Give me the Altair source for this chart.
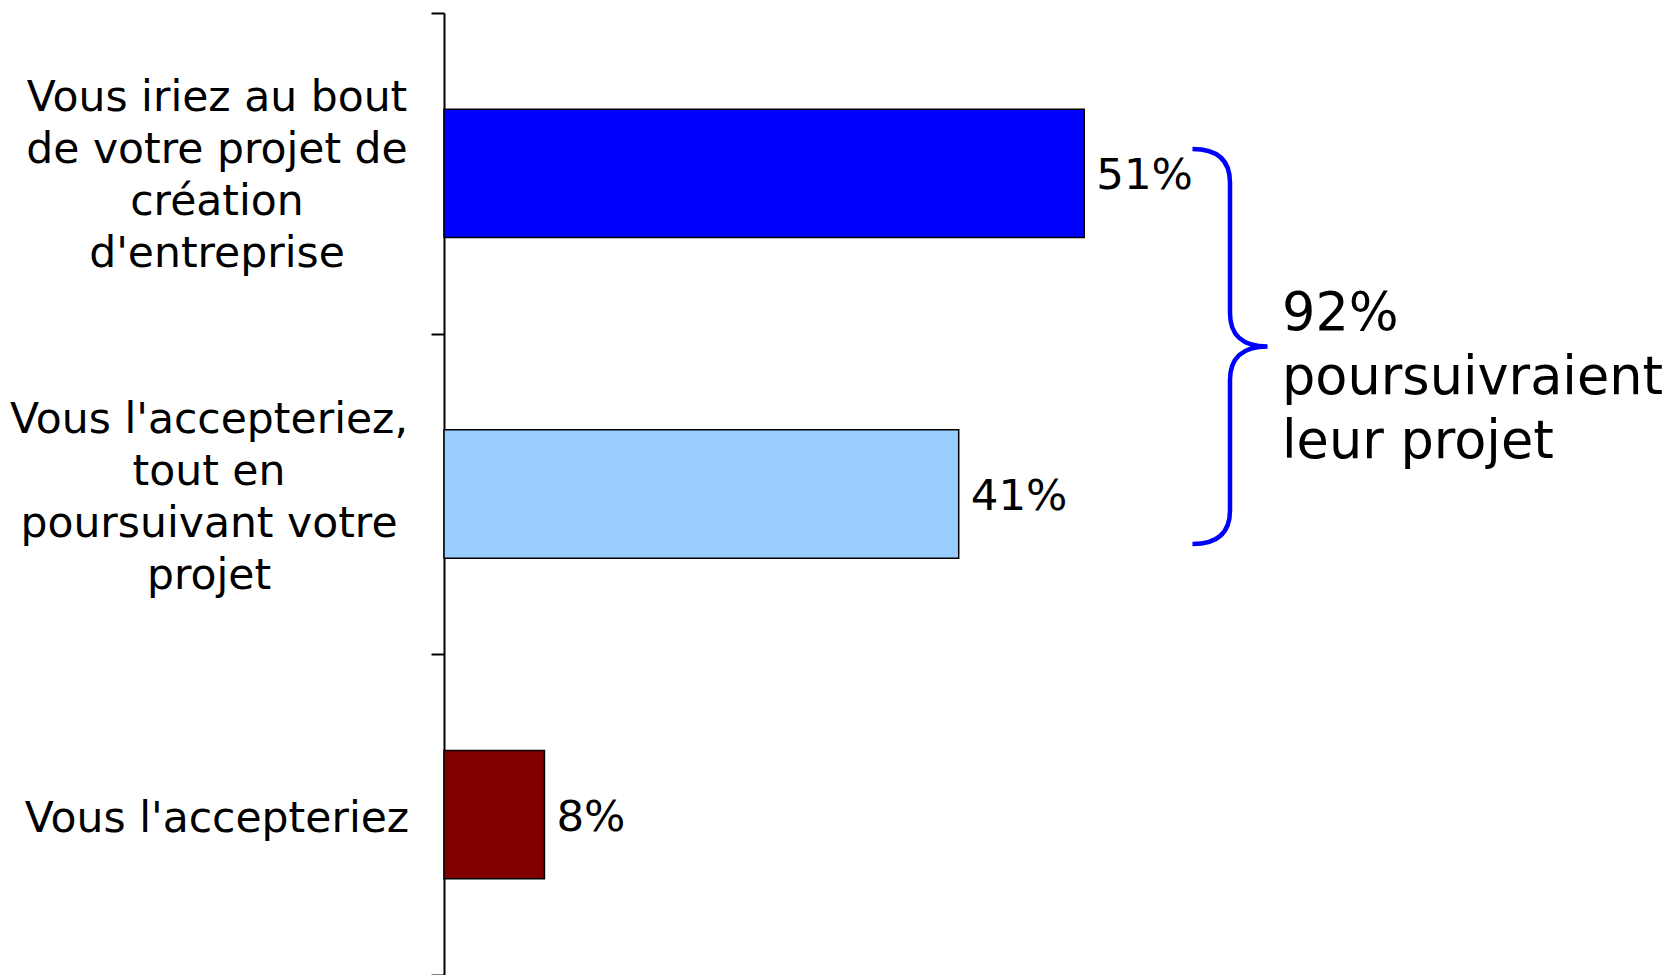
import altair as alt
import pandas as pd

categories = [
    "Vous iriez au bout\nde votre projet de\ncréation\nd'entreprise",
    "Vous l'accepteriez,\ntout en\npoursuivant votre\nprojet",
    "Vous l'accepteriez",
]
values = [51, 41, 8]
colors = ["#0000FF", "#99CCFF", "#800000"]
value_labels = ["51%", "41%", "8%"]
annotation_lines = ["92%", "poursuivraient", "leur projet"]

df = pd.DataFrame({"cat": categories, "value": values, "color": colors, "label": value_labels})

FONT = "DejaVu Sans"
y_scale = alt.Scale(domain=categories, paddingInner=0, paddingOuter=0)
x_scale = alt.Scale(domain=[0, 97.5], nice=False, zero=True)
y_enc = alt.Y("cat:N", scale=y_scale, sort=categories,
              axis=alt.Axis(title=None, labels=False, tickBand="extent", grid=False,
                            domainColor="black", tickColor="black", tickSize=13,
                            domainWidth=2, tickWidth=2))
y_plain = alt.Y("cat:N", scale=y_scale, sort=categories)

base = alt.Chart(df)

bars = base.mark_bar(stroke="black", strokeWidth=1.5, height=alt.RelativeBandSize(0.4)).encode(
    y=y_enc,
    x=alt.X("value:Q", scale=x_scale, axis=None),
    color=alt.Color("color:N", scale=None),
)

vals = base.mark_text(align="left", baseline="middle", dx=12, dy=3, fontSize=43.5, font=FONT, color="black").encode(
    y=y_plain, x=alt.X("value:Q", scale=x_scale), text="label:N"
)

LBL = dict(align="center", baseline="middle", lineBreak="\n", fontSize=42.5, lineHeight=52, font=FONT, color="black")

cat_first = base.transform_filter(alt.datum.cat == categories[0]).mark_text(dy=-75, **LBL).encode(
    y=y_plain, x=alt.value(-227), text="cat:N")
cat_second = base.transform_filter(alt.datum.cat == categories[1]).mark_text(dy=-74, **LBL).encode(
    y=y_plain, x=alt.value(-235), text="cat:N")
cat_third = base.transform_filter(alt.datum.cat == categories[2]).mark_text(dy=4, **LBL).encode(
    y=y_plain, x=alt.value(-227), text="cat:N")

BRACE = ("M-0.19,-1 C-0.07,-1 0,-0.95 0,-0.83 L0,-0.17 C0,-0.06 0.06,0 0.19,0 "
         "C0.06,0 0,0.06 0,0.17 L0,0.83 C0,0.95 -0.07,1 -0.19,1")

brace = alt.Chart(pd.DataFrame({"k": [0]})).mark_point(
    shape=BRACE, size=395 * 395, filled=False, stroke="#0000FF", strokeWidth=4.5, opacity=1
).encode(x=alt.value(786), y=alt.value(333.5))

annot = alt.Chart(pd.DataFrame({"t": ["\n".join(annotation_lines)]})).mark_text(
    align="left", baseline="alphabetic", lineBreak="\n", fontSize=52.5, lineHeight=64, font=FONT, color="black"
).encode(x=alt.value(838), y=alt.value(317), text="t:N")

chart = alt.layer(bars, vals, cat_first, cat_second, cat_third, brace, annot).properties(
    width=1224, height=962,
    autosize=alt.AutoSizeParams(type="none"),
    padding={"left": 436, "top": 5, "right": 0, "bottom": 0},
).configure_view(strokeWidth=0)

chart.save("out.html", embed_options={"renderer": "svg", "actions": False})
